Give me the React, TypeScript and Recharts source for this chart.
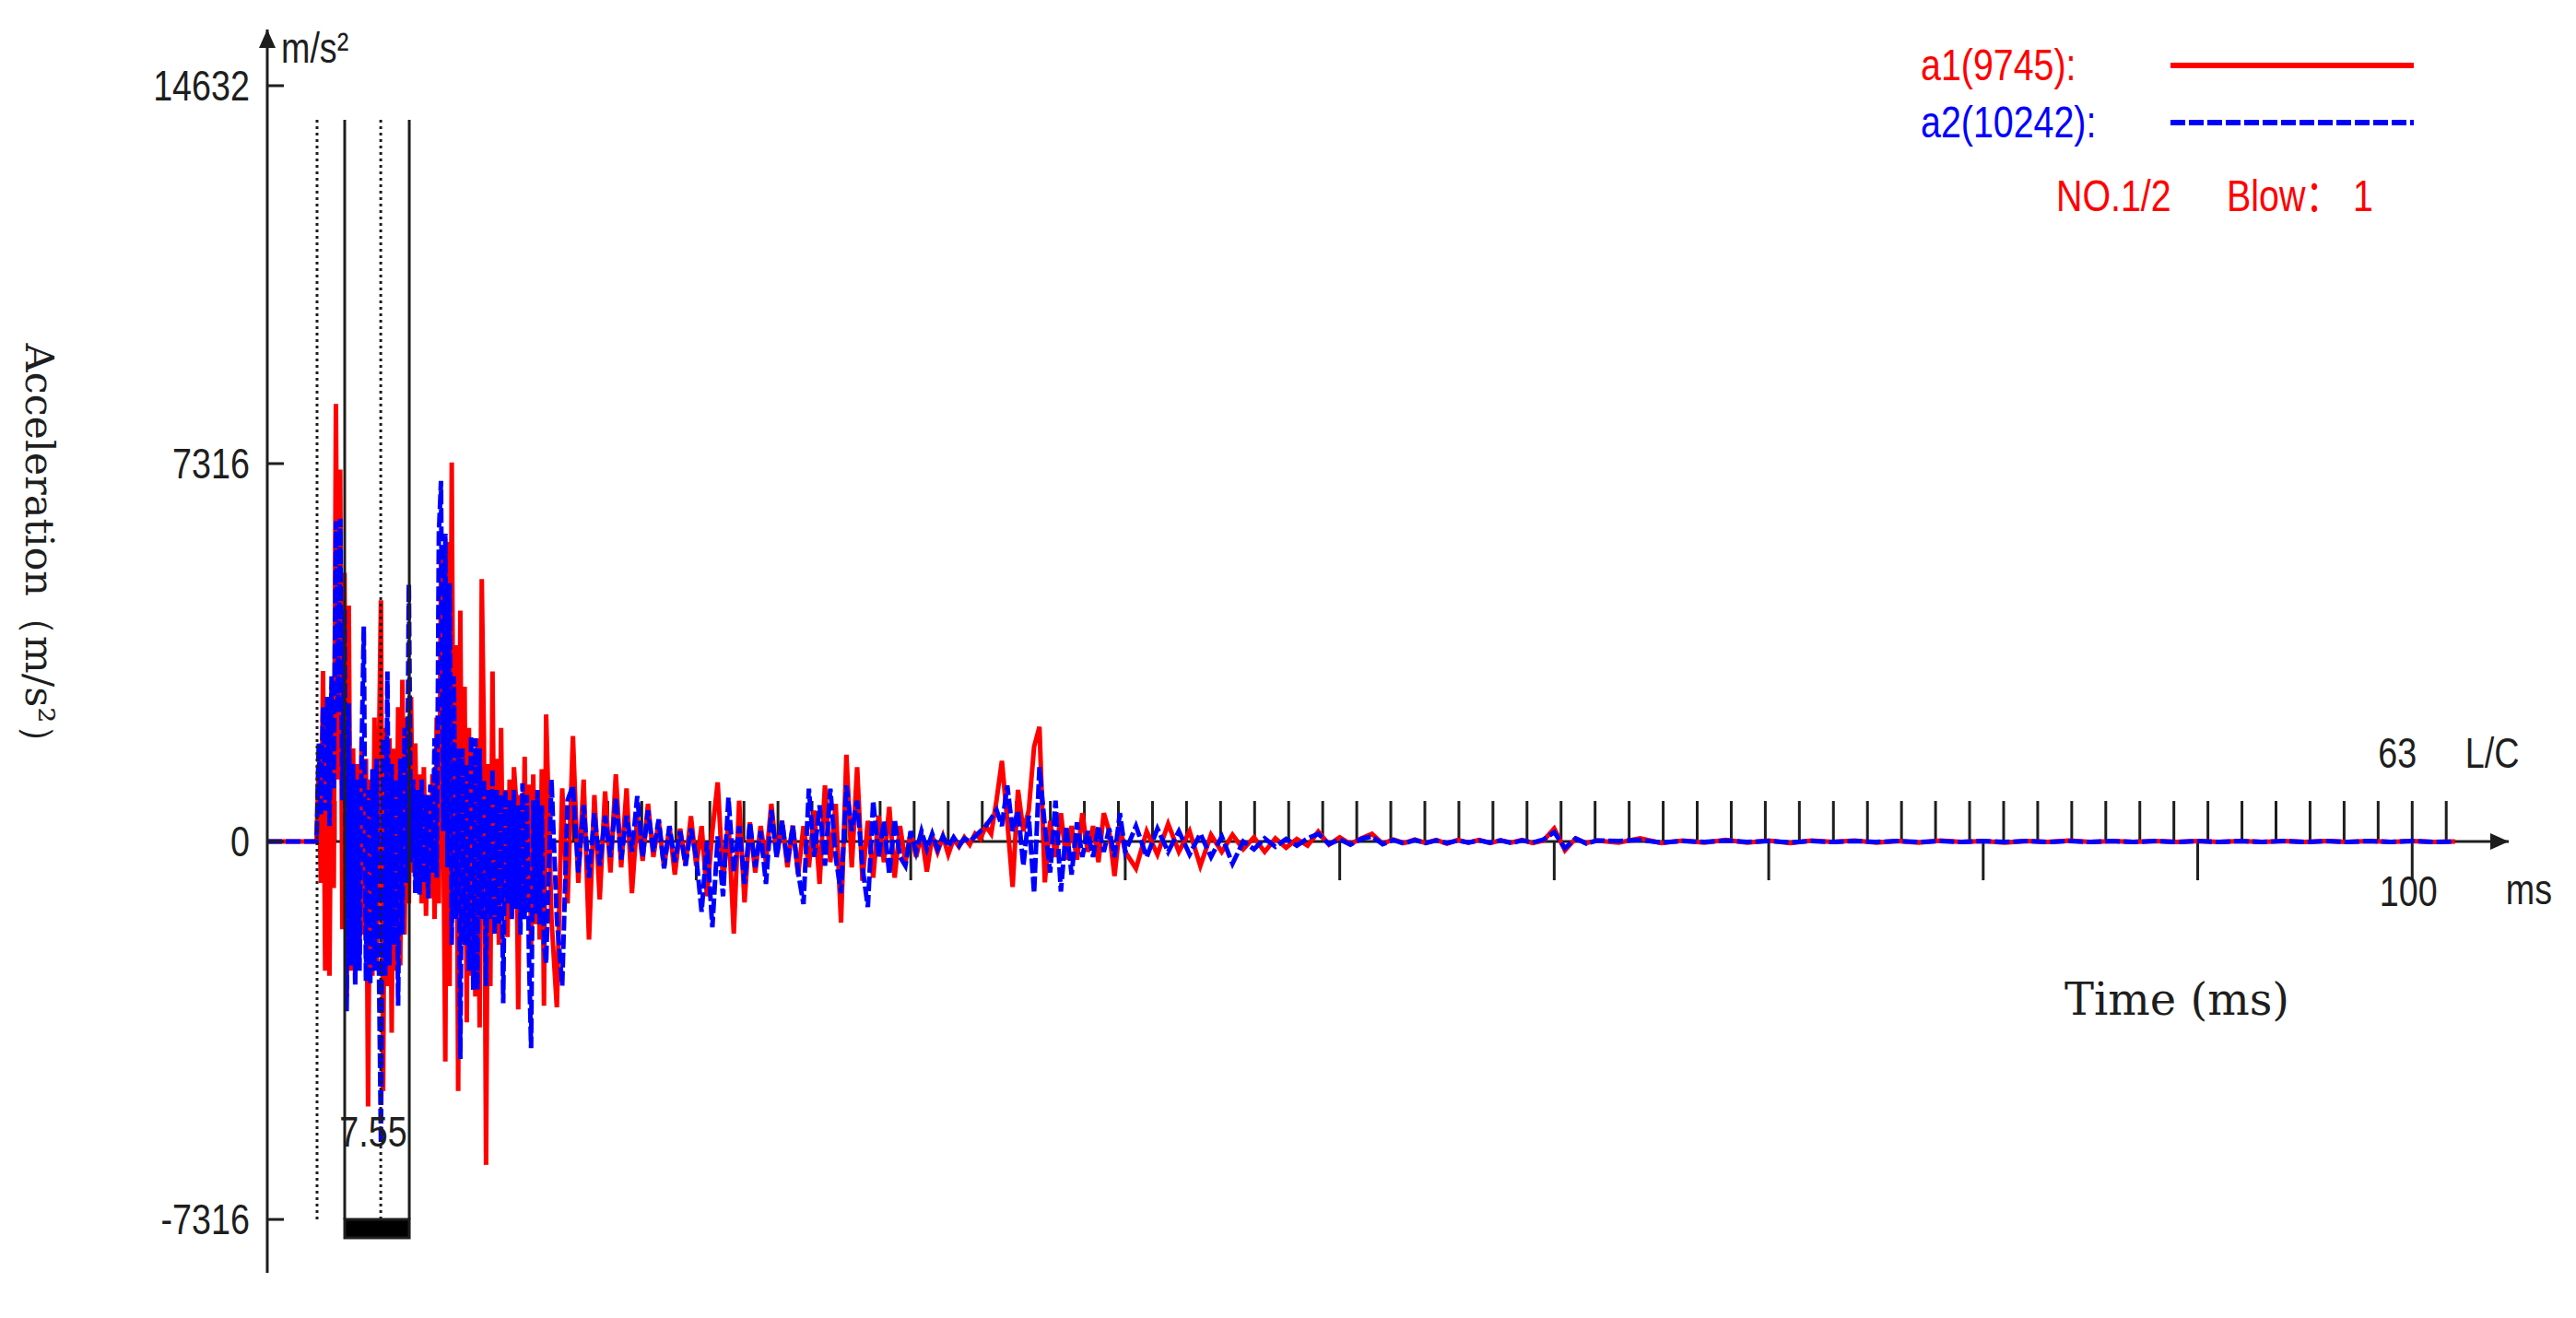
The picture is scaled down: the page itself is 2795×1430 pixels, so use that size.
import React from 'react'
import {
  LineChart,
  Line,
  XAxis,
  YAxis,
  ReferenceLine,
  ReferenceDot,
  ReferenceArea,
  Legend
} from 'recharts'

document.body.style.margin = '0'

const W = 2795
const H = 1430
const SANS = '"Liberation Sans", Arial, "Noto Sans CJK SC", sans-serif'
const SERIF = '"DejaVu Serif", "Liberation Serif", serif'
const INK = '#1e1e1e'
const SQUEEZE = 0.82 // the original uses a narrow sans face

// axes: time in ms, acceleration in m/s²
const X_MAX = 104.5
const Y_MIN = -8350
const Y_MAX = 15720
const Y_TICKS = [-7316, 0, 7316, 14632]
const MAJOR_TICKS = [10, 20, 30, 40, 50, 60, 70, 80, 90, 100]
const LC_DIVISIONS = 63
const LC_FIRST = 2
const LC_LAST = 64
const TICK_DOWN = 750
const TICK_UP = 785

// cursor markers at the start of the record
const MARK_DOTTED = [2.32, 5.29]
const MARK_SOLID = [3.61, 6.62]
const MARK_TOP = 13970
const MARK_BOTTOM = -7316
const MARK_BAR = -7670
const MARK_LABEL = '7.55'

// pre-trigger, flat
const PRE_START = 0
const PRE_STEP = 2.2
const PRE_A1 = [0, 0]
const PRE_A2 = [0, 0]

// 2.3 .. 13.0 ms, every 0.1 ms
const SEG1_START = 2.3
const SEG1_STEP = 0.1
const SEG1_A1 = [
  0, 1500, -800, 3300, -2500, 2400, -2600, 3000, -900, 8470,
  1200, 7200, -1700, 5200, -3000, 4570, -2500, 1800, -2700, 1500,
  -2200, 2000, -1800, 1600, -5130, 1200, -2600, 2400, -2400, 1500,
  4670, -4830, 2200, -2800, 2000, -3700, 1800, -2500, 2600, -2400,
  3130, -1800, 2400, -1200, 2800, -600, 1900, -900, 1300, -1200,
  1440, -1440, 900, -1100, 1300, -1500, 2400, -1200, 5500, 800,
  -4260, 5800, -2800, 7340, -1500, 3800, -4830, 4470, -2000, 3000,
  -3500, 2200, -2600, 1800, -3000, 2000, -3600, 5080, 2000, -6260,
  1500, -2800, 3290, -1500, 1600, -2000, 2200, -1200, 1000, -1850,
  1200, -1400, 1440, 800, -3250, 900, -1500, 1640, -1200, 1100,
  -2000, 1300, -1600, 900, -1900, 1400, -3180, 2460
]
const SEG1_A2 = [
  0, 1900, 500, 2600, 600, 2800, 300, 3200, 1000, 6200,
  2500, 6250, 800, 4500, -3290, 2670, -2400, 1500, -2770, 1200,
  -2500, 1800, 4160, -2700, 1000, -2770, 1400, -2500, 1600, -2200,
  -5850, 2000, -2600, 3290, -2400, 1500, -2000, 1200, -3180, 1600,
  -1800, 2200, -800, 4980, -400, 1200, -1000, 1000, -1030, 1200,
  -800, 900, -1100, 1100, -600, 2000, -700, 5960, 6980, 200,
  5960, -500, 5000, -2000, 3200, -1500, 1800, -4210, 1800, -2000,
  1500, -2500, 2050, -2870, 2000, -2870, 1800, -1500, 1200, -2800,
  1000, -1500, 1400, -1800, 1000, -1600, 900, -3130, 1000, -1200,
  800, -1500, 1000, -1300, 700, -1800, 1130, -1500, 900, -2200,
  -4000, 800, -1400, 1000, -1600, 700, -2000, -2360
]

// 13.25 .. 40.0 ms, every 0.25 ms
const SEG2_START = 13.25
const SEG2_STEP = 0.25
const SEG2_A1 = [
  -1500, -3210, 1030, -1200, 2040, -800, 1200, -1900, 900, -1120,
  970, -600, 1300, -500, 1030, -1000, 500, -375, 730, -300,
  400, -500, 300, -640, 250, -450, 490, -470, 300, -1060,
  200, 1145, -800, 400, -1780, 790, -1180, 370, -600, 300,
  -400, 730, -300, 400, -500, 310, -640, 300, -500, 600,
  -820, 1085, -400, 730, -1570, 1680, -500, 1440, -760, 400,
  -700, 500, -400, 670, -700, 300, -400, 190, -300, 150,
  -580, 100, -200, 100, -250, 50, -100, 80, -60, 150,
  50, 300, 150, 800, 1560, 400, -880, 1000, 200, 600,
  1830, 2220, -790, 400, -300, 550, -350, 300, -350, 550,
  -200, 300, -400, 550, 200, -670, 300, -200
]
const SEG2_A2 = [
  1200, -1500, -2790, 800, 1085, -600, 700, -700, 550, -470,
  500, -300, 850, -350, 500, -200, 880, -300, 600, -200,
  430, -520, 300, -400, 200, -470, 250, -300, -1360, 0,
  -1660, 100, -1060, 850, -600, 300, -820, 370, -500, 200,
  -820, 610, -300, 400, -400, 300, -600, -1210, 1025, -300,
  700, -470, 1025, -300, -1000, 1085, 200, 790, -500, -1270,
  790, -300, 400, -640, 430, -300, -470, 200, -200, 200,
  -150, 150, -150, 100, -100, 80, -80, 60, 0, 100,
  200, 300, 450, 610, 300, 1085, 200, 600, -470, 500,
  -1000, 1440, 300, -600, 790, -970, 300, -640, 370, -300,
  200, -300, 300, -200, 250, -300, 550, -200
]

// 40.5 .. 62.0 ms, every 0.5 ms
const SEG3_START = 40.5
const SEG3_STEP = 0.5
const SEG3_A1 = [
  -520, 200, -250, 340, -200, 200, -470, 130, -200, 130,
  -150, 80, -200, 60, -120, 50, -80, 190, -60, 80,
  -50, 60, 150, -40, 40, -30, 40, -30, 30, -40,
  30, -20, 30, -30, 20, -20, 30, -30, 20, 250,
  -170, 60, -30, 20
]
const SEG3_A2 = [
  300, -300, 250, -200, 200, -250, 150, -300, 100, -430,
  0, -150, 60, -100, 50, -80, 60, 150, -50, 40,
  -60, 50, 100, -50, 30, -40, 30, -30, 20, -30,
  20, -20, 20, -20, 20, -30, 20, -20, 40, 180,
  -130, 60, -40, 20
]

// 63 .. 102 ms, every 1 ms
const SEG4_START = 63
const SEG4_STEP = 1
const SEG4_A1 = [
  -20, 60, -30, 20, -20, 30, -20, 20, -30, 20,
  -10, 20, -20, 10, -20, 20, -10, 10, -20, 10,
  -10, 20, -10, 10, -10, 10, -10, 10, -10, 10,
  -10, 10, -10, 10, -10, 10, -10, 10, -10, 0
]
const SEG4_A2 = [
  10, 30, -20, 10, -10, 20, -10, 10, -20, 10,
  -10, 10, -10, 10, -10, 10, -10, 10, -10, 10,
  -10, 10, -10, 10, -10, 10, -10, 10, -10, 10,
  -10, 10, -10, 10, -10, 10, -10, 10, -10, 0
]

const LEGEND_NOTE = ['NO.1/2', 'Blow：', '1']
const LEGEND_NOTE_X = [2231, 2416, 2553]

const rows: { t: number; a1: number; a2: number }[] = []
const addSegment = (start: number, step: number, a1: number[], a2: number[]) => {
  a1.forEach((v, i) => rows.push({ t: +(start + i * step).toFixed(3), a1: v, a2: a2[i] }))
}
addSegment(PRE_START, PRE_STEP, PRE_A1, PRE_A2)
addSegment(SEG1_START, SEG1_STEP, SEG1_A1, SEG1_A2)
addSegment(SEG2_START, SEG2_STEP, SEG2_A1, SEG2_A2)
addSegment(SEG3_START, SEG3_STEP, SEG3_A1, SEG3_A2)
addSegment(SEG4_START, SEG4_STEP, SEG4_A1, SEG4_A2)

const lcTicks: { k: number; t: number }[] = []
for (let k = LC_FIRST; k <= LC_LAST; k++) lcTicks.push({ k, t: (k * 100) / LC_DIVISIONS })

const css = `
.nx { transform: scaleX(${SQUEEZE}); transform-box: fill-box; transform-origin: center; }
.nx-l { transform: scaleX(${SQUEEZE}); transform-box: fill-box; transform-origin: left center; }
`

const labelText = { fontFamily: SANS, fontSize: 46, fill: INK }

const YTick = (props: any) => {
  const { x, y, payload } = props
  return (
    <g>
      <g transform={`translate(${x},${y}) scale(${SQUEEZE},1)`}>
        <text x={0} y={0} dy="0.35em" textAnchor="end" fontFamily={SANS} fontSize={46} fill={INK}>
          {payload.value}
        </text>
      </g>
      <line x1={x + 19} x2={x + 37} y1={y} y2={y} stroke={INK} strokeWidth={3} />
    </g>
  )
}

const UpArrow = (p: any) => (
  <polygon points={`${p.cx},${p.cy} ${p.cx - 9},${p.cy + 20} ${p.cx + 9},${p.cy + 20}`} fill={INK} />
)
const RightArrow = (p: any) => (
  <polygon points={`${p.cx},${p.cy} ${p.cx - 20},${p.cy - 9} ${p.cx - 20},${p.cy + 9}`} fill={INK} />
)

const narrowDiv = (color: string): React.CSSProperties => ({
  position: 'absolute',
  transform: `translateY(-50%) scaleX(${SQUEEZE})`,
  transformOrigin: 'left center',
  color,
  fontFamily: SANS,
  fontSize: 48,
  whiteSpace: 'nowrap',
  lineHeight: 1
})

const LegendBox = ({ payload }: any) => (
  <div lang="zh-CN" style={{ position: 'relative', width: W, height: 0 }}>
    {(payload || []).map((e: any, i: number) => {
      const cy = 71 + i * 62
      return (
        <React.Fragment key={e.value}>
          <div style={{ ...narrowDiv(e.color), left: 2084, top: cy }}>{e.value}</div>
          <svg style={{ position: 'absolute', left: 2355, top: cy - 5 }} width={264} height={10}>
            <line
              x1={0} x2={264} y1={5} y2={5} stroke={e.color} strokeWidth={6}
              strokeDasharray={e.payload?.strokeDasharray}
            />
          </svg>
        </React.Fragment>
      )
    })}
    {LEGEND_NOTE.map((s, i) => (
      <div key={s} style={{ ...narrowDiv('#ff0000'), left: LEGEND_NOTE_X[i], top: 213 }}>
        {s}
      </div>
    ))}
  </div>
)

export default function App() {
  return (
    <div style={{ position: 'relative', width: W, height: H, background: '#fff' }}>
      <style>{css}</style>
      <LineChart width={W} height={H} data={rows} margin={{ top: 32, right: 73, bottom: 49, left: 190 }}>
        <XAxis type="number" dataKey="t" domain={[0, X_MAX]} allowDataOverflow hide />
        <YAxis
          type="number"
          domain={[Y_MIN, Y_MAX]}
          allowDataOverflow
          ticks={Y_TICKS}
          interval={0}
          width={100}
          tickSize={0}
          tickMargin={19}
          tickLine={false}
          axisLine={{ stroke: INK, strokeWidth: 3 }}
          tick={<YTick />}
        />

        <ReferenceLine y={0} stroke={INK} strokeWidth={3} />

        {MAJOR_TICKS.map((t) => (
          <ReferenceLine
            key={`m${t}`}
            segment={[{ x: t, y: 0 }, { x: t, y: -TICK_DOWN }]}
            stroke={INK}
            strokeWidth={3}
            label={
              t === 100
                ? { value: '100', position: 'bottom', offset: -5, dx: -4, className: 'nx', ...labelText }
                : undefined
            }
          />
        ))}

        {lcTicks.map(({ k, t }) => (
          <ReferenceLine
            key={`lc${k}`}
            segment={[{ x: t, y: 0 }, { x: t, y: TICK_UP }]}
            stroke={INK}
            strokeWidth={3}
            label={
              k === LC_DIVISIONS
                ? { value: String(LC_DIVISIONS), position: 'top', offset: 36, dx: -16, className: 'nx', ...labelText }
                : k === LC_LAST
                ? { value: 'L/C', position: 'top', offset: 36, dx: 50, className: 'nx', ...labelText }
                : undefined
            }
          />
        ))}

        <Line
          type="linear"
          dataKey="a1"
          name="a1(9745):"
          stroke="#ff0000"
          strokeWidth={5}
          dot={false}
          isAnimationActive={false}
        />
        <Line
          type="linear"
          dataKey="a2"
          name="a2(10242):"
          stroke="#0000ff"
          strokeWidth={5}
          strokeDasharray="16 4"
          dot={false}
          isAnimationActive={false}
        />

        {MARK_DOTTED.map((t) => (
          <ReferenceLine
            key={`d${t}`}
            segment={[{ x: t, y: MARK_BOTTOM }, { x: t, y: MARK_TOP }]}
            stroke={INK}
            strokeWidth={3}
            strokeDasharray="3 4"
          />
        ))}
        {MARK_SOLID.map((t) => (
          <ReferenceLine
            key={`s${t}`}
            segment={[{ x: t, y: MARK_BOTTOM }, { x: t, y: MARK_TOP }]}
            stroke={INK}
            strokeWidth={3}
          />
        ))}
        <ReferenceArea
          x1={MARK_SOLID[0]}
          x2={MARK_SOLID[1]}
          y1={MARK_BAR}
          y2={MARK_BOTTOM}
          fill="#000"
          fillOpacity={1}
          stroke={INK}
          strokeWidth={3}
          label={{ value: MARK_LABEL, position: 'top', offset: 79, dx: -4, className: 'nx', ...labelText }}
        />

        <ReferenceDot
          x={0}
          y={Y_MAX}
          r={12}
          ifOverflow="visible"
          shape={UpArrow}
          label={{ value: 'm/s²', position: 'right', offset: 3, dy: 20, className: 'nx-l', ...labelText }}
        />
        <ReferenceDot
          x={X_MAX}
          y={0}
          r={12}
          ifOverflow="visible"
          shape={RightArrow}
          label={{ value: 'ms', position: 'bottom', offset: 23, dx: 22, className: 'nx', ...labelText }}
        />

        <Legend content={<LegendBox />} wrapperStyle={{ top: 0, left: 0, width: W, height: 0 }} />
      </LineChart>

      <div
        style={{
          position: 'absolute', left: 42, top: 600, transform: 'translate(-50%, -50%) rotate(90deg)',
          fontFamily: SERIF, fontSize: 43, color: INK, whiteSpace: 'nowrap', lineHeight: 1
        }}
      >
        Acceleration（m/s²）
      </div>
      <div
        style={{
          position: 'absolute', left: 2362, top: 1084, transform: 'translate(-50%, -50%)',
          fontFamily: SERIF, fontSize: 48, color: INK, whiteSpace: 'nowrap', lineHeight: 1
        }}
      >
        Time (ms)
      </div>
    </div>
  )
}
